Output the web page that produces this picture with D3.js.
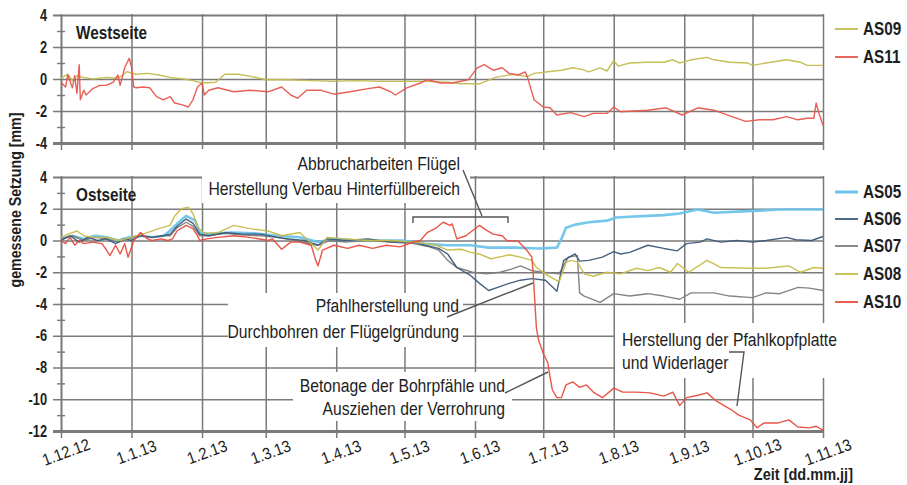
<!DOCTYPE html>
<html>
<head>
<meta charset="utf-8">
<script src="https://cdn.jsdelivr.net/npm/d3@7/dist/d3.min.js"></script>
<style>
  body { margin: 0; background: #fff; }
  svg { display: block; font-family: "Liberation Sans", Arial, sans-serif; }
</style>
</head>
<body>
<svg id="chart" width="907" height="485"></svg>
<script>
// Settlement measurements, days counted from 1.12.12, values in mm
const startLabel = "1.12.12";
const monthLabels = ["1.12.12","1.1.13","1.2.13","1.3.13","1.4.13","1.5.13","1.6.13","1.7.13","1.8.13","1.9.13","1.10.13","1.11.13"];
const topTicks = [-4, -2, 0, 2, 4];
const bottomTicks = [-12, -10, -8, -6, -4, -2, 0, 2, 4];

// Westseite
const AS09 = [[0,0.05],[3,0.3],[5,-0.1],[7,0.2],[10,0.1],[14,0.0],[20,0.1],[25,0.05],[29,0.45],[33,0.3],[38,0.35],[43,0.25],[48,0.1],[54,0.0],[58,-0.1],[62,-0.25],[68,-0.2],[72,0.3],[78,0.3],[84,0.15],[90,-0.05],[100,-0.05],[110,-0.1],[120,-0.15],[130,-0.1],[140,-0.15],[150,-0.15],[160,-0.15],[170,-0.2],[176,-0.3],[184,-0.3],[191,0.1],[199,0.3],[205,0.15],[208,0.35],[214,0.45],[220,0.55],[225,0.7],[229,0.6],[232,0.45],[237,0.7],[240,0.5],[243,1.15],[245,0.8],[250,1.0],[258,1.05],[265,1.05],[269,1.2],[272,1.0],[277,1.2],[284,1.35],[287,1.2],[294,1.05],[302,1.0],[304,0.85],[310,1.0],[319,1.2],[325,1.05],[328,0.85],[335,0.85]];
const AS11 = [[0,-0.2],[2,-0.5],[3,0.25],[5,-0.55],[6,0.2],[7,-0.9],[8,0.9],[8.5,-1.3],[10,-0.7],[11,-1.0],[14,-0.6],[17,-0.4],[20,-0.4],[23,-0.2],[25,0.25],[26,-0.4],[28,0.7],[30,1.3],[31,0.75],[32,-0.5],[33,-0.55],[36,-0.5],[39,-0.55],[42,-1.1],[45,-1.3],[48,-1.1],[50,-1.5],[53,-1.6],[56,-1.75],[58,-1.3],[60,-0.5],[62,-0.25],[63,-1.0],[65,-0.7],[69,-0.55],[76,-0.8],[83,-0.7],[91,-0.8],[97,-0.5],[101,-1.0],[104,-1.2],[108,-0.7],[114,-0.7],[120,-0.95],[127,-0.8],[135,-0.6],[140,-0.5],[145,-0.8],[147,-1.0],[152,-0.55],[158,-0.25],[161,-0.05],[167,-0.25],[172,-0.25],[179,-0.05],[183,0.7],[186,0.9],[190,0.55],[194,0.7],[197,0.35],[201,0.25],[204,0.45],[205,0.15],[208,-1.3],[212,-1.75],[215,-1.8],[218,-2.25],[224,-2.1],[230,-2.35],[234,-2.15],[240,-2.15],[243,-1.75],[246,-2.05],[258,-1.95],[266,-1.8],[273,-2.25],[280,-1.8],[287,-1.95],[291,-2.15],[295,-2.35],[301,-2.65],[307,-2.55],[313,-2.55],[319,-2.35],[324,-2.55],[328,-2.45],[331,-2.45],[332,-1.5],[333,-2.05],[335,-2.9]];

// Ostseite
const AS05 = [[0,0.1],[5,0.3],[10,0.1],[15,0.3],[20,0.2],[25,0.0],[30,0.2],[35,0.3],[40,0.2],[45,0.3],[47,0.5],[51,1.05],[55,1.55],[59,1.25],[61,0.5],[65,0.4],[75,0.5],[85,0.45],[95,0.3],[105,0.2],[113,-0.1],[120,0.1],[130,0.0],[140,0.0],[150,0.0],[160,-0.2],[170,-0.3],[180,-0.3],[188,-0.45],[200,-0.45],[210,-0.5],[218,-0.45],[220,0.1],[222,0.8],[226,1.0],[232,1.15],[240,1.25],[244,1.45],[250,1.5],[258,1.55],[265,1.6],[272,1.7],[280,1.95],[287,1.75],[302,1.85],[316,1.95],[335,1.95]];
const AS06 = [[0,0.0],[4,0.3],[8,-0.1],[12,0.2],[16,0.0],[20,0.1],[24,-0.2],[28,0.1],[31,0.0],[35,0.3],[40,0.2],[45,0.3],[48,0.4],[51,0.9],[55,1.35],[58,1.1],[61,0.4],[65,0.3],[72,0.5],[80,0.4],[88,0.4],[95,0.2],[100,0.1],[107,0.0],[113,-0.3],[117,0.1],[125,0.0],[135,0.1],[145,-0.1],[155,-0.1],[160,-0.3],[166,-0.5],[170,-0.85],[174,-1.7],[180,-2.2],[184,-2.7],[188,-3.15],[192,-2.95],[197,-2.7],[202,-2.5],[207,-2.4],[213,-2.5],[218,-3.2],[221,-1.25],[224,-1.0],[226,-0.85],[228,-1.3],[232,-1.25],[238,-1.05],[243,-0.7],[246,-0.85],[250,-0.75],[258,-0.3],[265,-0.5],[271,-0.65],[275,-0.2],[281,-0.1],[284,0.1],[290,-0.1],[297,0.0],[304,-0.1],[310,0.0],[319,0.2],[323,0.05],[330,0.0],[335,0.25]];
const AS07 = [[0,0.1],[5,0.3],[10,0.0],[15,0.2],[20,0.1],[25,-0.1],[30,0.1],[35,0.3],[40,0.2],[45,0.3],[48,0.3],[51,0.8],[55,1.15],[58,0.9],[61,0.3],[65,0.3],[72,0.45],[80,0.35],[88,0.3],[95,0.2],[103,0.0],[113,-0.3],[118,0.0],[125,-0.1],[135,0.0],[145,-0.1],[155,-0.2],[162,-0.4],[166,-0.6],[170,-1.25],[174,-1.7],[181,-2.0],[187,-2.1],[193,-2.0],[198,-1.8],[202,-1.6],[207,-1.9],[212,-2.0],[219,-2.1],[223,-1.05],[227,-0.95],[228,-3.3],[230,-3.5],[237,-3.9],[243,-3.35],[250,-3.5],[258,-3.35],[265,-3.5],[272,-3.7],[277,-3.3],[287,-3.3],[294,-3.5],[304,-3.6],[310,-3.3],[316,-3.35],[324,-2.95],[329,-3.0],[335,-3.15]];
const AS08 = [[0,0.2],[3,0.4],[5,0.5],[7,0.6],[10,0.3],[14,0.2],[20,0.2],[26,0.0],[31,0.2],[38,0.5],[43,0.75],[48,0.95],[50,1.55],[53,2.0],[56,2.1],[58,1.7],[60,0.85],[63,0.45],[69,0.5],[76,0.95],[83,0.75],[91,0.6],[97,0.3],[105,0.5],[113,-0.6],[117,0.2],[125,0.1],[135,0.0],[145,0.0],[155,-0.1],[160,-0.2],[165,-0.3],[170,-0.6],[176,-0.55],[180,-0.75],[184,-0.85],[189,-1.15],[194,-1.0],[197,-0.9],[202,-1.05],[207,-1.25],[209,-1.7],[214,-2.2],[219,-2.6],[222,-1.4],[224,-1.25],[227,-1.35],[230,-2.1],[234,-2.25],[240,-2.0],[246,-2.1],[253,-1.75],[258,-1.9],[263,-1.7],[268,-2.0],[271,-1.45],[276,-2.0],[284,-1.25],[290,-1.7],[302,-1.75],[310,-1.75],[320,-1.6],[325,-2.0],[331,-1.7],[335,-1.75]];
const AS10 = [[0,0.0],[2,-0.2],[4,0.2],[6,-0.3],[8,0.0],[10,-0.2],[14,-0.1],[18,-0.2],[20,-0.6],[21.5,-0.95],[24,-0.3],[26,-0.85],[28,-0.2],[29.5,-1.05],[32,0.0],[35,0.5],[38,0.1],[40,0.0],[44,0.1],[47,0.0],[49,0.1],[51,0.6],[55,0.95],[58,0.75],[60,0.3],[61,0.0],[64,0.1],[69,0.2],[76,0.3],[83,0.2],[91,0.0],[93,0.1],[97,-0.55],[101,-0.1],[105,-0.1],[110,-0.3],[112,-1.25],[113,-1.6],[115,-0.6],[120,-0.3],[126,-0.5],[131,-0.3],[137,-0.5],[143,-0.3],[149,-0.4],[155,-0.1],[158,0.0],[161,0.5],[165,0.8],[168,1.15],[171,0.95],[172,1.05],[174,0.1],[178,0.3],[183,0.85],[184,0.95],[187,0.65],[190,0.4],[194,0.3],[196,0.0],[201,-0.05],[205,-0.65],[207,-1.05],[207.5,-1.9],[209,-5.5],[210,-6.3],[212,-7.1],[214,-7.7],[215,-8.6],[216,-9.4],[218,-9.9],[220,-9.9],[222,-9.1],[225,-8.9],[228,-9.25],[231,-9.1],[234,-9.55],[238,-9.9],[243,-9.3],[247,-9.55],[253,-9.55],[259,-9.6],[265,-9.8],[269,-9.55],[272,-10.4],[275,-9.9],[280,-9.75],[284,-9.6],[288,-10.1],[294,-10.6],[298,-11.0],[303,-11.3],[306,-11.8],[309,-11.5],[315,-11.5],[320,-11.3],[324,-11.75],[329,-11.8],[332,-11.7],[335,-11.95]];

const topSeries = [
  { name: "AS09", data: AS09, color: "#c4bb4e", width: 1.4 },
  { name: "AS11", data: AS11, color: "#e6564c", width: 1.4 }
];
const bottomSeries = [
  { name: "AS05", data: AS05, color: "#6ec3ea", width: 2.6 },
  { name: "AS06", data: AS06, color: "#3d5878", width: 1.4 },
  { name: "AS07", data: AS07, color: "#7d7d7d", width: 1.4 },
  { name: "AS08", data: AS08, color: "#c6bc48", width: 1.4 },
  { name: "AS10", data: AS10, color: "#e84c3d", width: 1.4 }
];
const drawOrderBottom = ["AS05", "AS07", "AS06", "AS08", "AS10"];

const parseLabel = d3.timeParse("%d.%m.%y");
const start = parseLabel(startLabel);
const tickDates = monthLabels.map(parseLabel);
const toDate = d => new Date(start.getTime() + d * 864e5);

const svg = d3.select("#chart");
const left = 61, right = 823;
const x = d3.scaleTime().domain([tickDates[0], tickDates[tickDates.length - 1]]).range([left, right]);

const gridColor = "#7a7a7a";
const inkColor = "#1e1e1e";

// condensed text: regular glyphs squeezed along the text direction
function squeezed(sel, px, py, sx, rotate) {
  return sel.attr("transform", `translate(${px},${py})${rotate ? ` rotate(${rotate})` : ""} scale(${sx},1)`);
}

const panels = [
  { title: "Westseite", series: topSeries, order: ["AS09", "AS11"], ticks: topTicks,
    y: d3.scaleLinear().domain([-4, 4]).range([143, 15]), legendY: [29, 57] },
  { title: "Ostseite", series: bottomSeries, order: drawOrderBottom, ticks: bottomTicks,
    y: d3.scaleLinear().domain([-12, 4]).range([431, 177]), legendY: [192, 219, 246, 274, 302] }
];

// white boxes behind the annotation text (they interrupt the grid)
const annoBoxes = [
  { x: 202, y: 149, w: 268, h: 54 },
  { x: 228, y: 293, w: 235, h: 54 },
  { x: 293, y: 372, w: 219, h: 49 },
  { x: 615, y: 323, w: 235, h: 55 }
];

panels.forEach((p, i) => {
  const y = p.y;
  const [y0, y1] = y.range(); // bottom, top
  const g = svg.append("g");

  // horizontal grid lines
  g.append("g")
    .attr("transform", `translate(53,0)`)
    .call(d3.axisLeft(y).tickValues(p.ticks).tickSize(-(right - 53)).tickFormat(""))
    .call(a => a.select(".domain").remove())
    .call(a => a.selectAll("line")
      .attr("stroke", gridColor)
      .attr("stroke-width", d => (d === y.domain()[0] ? 2.8 : (d === y.domain()[1] ? 2 : 1.6))));

  // vertical grid lines (month starts), extending slightly below the axis
  g.append("g")
    .attr("transform", `translate(0,${y0 + 7})`)
    .call(d3.axisBottom(x).tickValues(tickDates).tickSize(-(y0 + 7 - y1 + 1)).tickFormat(""))
    .call(a => a.select(".domain").remove())
    .call(a => a.selectAll("line").attr("stroke", gridColor).attr("stroke-width", 1.5));

  // minor ticks at odd values
  const minor = d3.range(y.domain()[0] + 1, y.domain()[1], 2);
  g.append("g")
    .attr("transform", `translate(65,0)`)
    .call(d3.axisLeft(y).tickValues(minor).tickSize(8).tickFormat(""))
    .call(a => a.select(".domain").remove())
    .call(a => a.selectAll("line").attr("stroke", gridColor).attr("stroke-width", 1.4));

  // y axis line
  g.append("g")
    .attr("transform", `translate(${left},0)`)
    .call(d3.axisLeft(y).tickValues(p.ticks).tickSize(0).tickFormat(""))
    .call(a => a.select(".domain").attr("stroke", gridColor).attr("stroke-width", 1.7));

  // y tick labels
  g.append("g").selectAll("text").data(p.ticks).enter().append("text")
    .each(function (d) { squeezed(d3.select(this), 47, y(d), 0.8); })
    .attr("text-anchor", "end").attr("dominant-baseline", "central")
    .attr("font-size", 16).attr("font-weight", "bold").attr("fill", inkColor)
    .text(d => d);

  if (i === 1) {
    svg.selectAll(".annoBox").data(annoBoxes).enter().append("rect")
      .attr("class", "annoBox")
      .attr("x", d => d.x).attr("y", d => d.y).attr("width", d => d.w).attr("height", d => d.h)
      .attr("fill", "#fff");
  }

  // panel title
  squeezed(svg.append("text"), 76, y1 + 24, 0.85)
    .attr("font-size", 18).attr("font-weight", "bold").attr("fill", inkColor)
    .text(p.title);

  // data lines
  const line = d3.line().x(d => x(toDate(d[0]))).y(d => y(d[1]));
  const byName = new Map(p.series.map(s => [s.name, s]));
  p.order.forEach(n => {
    const s = byName.get(n);
    svg.append("path").datum(s.data)
      .attr("d", line)
      .attr("fill", "none")
      .attr("stroke", s.color)
      .attr("stroke-width", s.width)
      .attr("stroke-linejoin", "round")
      .attr("opacity", 0.95);
  });

  // legend
  p.series.forEach((s, k) => {
    const ly = p.legendY[k];
    svg.append("line").attr("x1", 835).attr("x2", 858).attr("y1", ly).attr("y2", ly)
      .attr("stroke", s.color).attr("stroke-width", s.width + 0.4);
    squeezed(svg.append("text"), 863, ly, 0.85)
      .attr("dominant-baseline", "central")
      .attr("font-size", 18).attr("font-weight", "bold").attr("fill", inkColor)
      .text(s.name);
  });
});

// x tick labels below the lower panel
svg.append("g").selectAll("text").data(tickDates).enter().append("text")
  .each(function (d) { squeezed(d3.select(this), x(d) + 5, 452, 0.9, -20); })
  .attr("text-anchor", "middle")
  .attr("dominant-baseline", "central")
  .attr("font-size", 16.5).attr("fill", inkColor)
  .text((d, i) => monthLabels[i]);

// axis titles
squeezed(svg.append("text"), 21, 200, 0.86, -90)
  .attr("text-anchor", "middle")
  .attr("font-size", 16.5).attr("font-weight", "bold").attr("fill", inkColor)
  .text("gemessene Setzung [mm]");
squeezed(svg.append("text"), 853, 480, 0.88)
  .attr("text-anchor", "end")
  .attr("font-size", 16.5).attr("font-weight", "bold").attr("fill", inkColor)
  .text("Zeit [dd.mm.jj]");

// annotations
const annoTexts = [
  { x: 460, y: 170, anchor: "end", text: "Abbrucharbeiten Flügel" },
  { x: 460, y: 195, anchor: "end", text: "Herstellung Verbau Hinterfüllbereich" },
  { x: 459, y: 312, anchor: "end", text: "Pfahlherstellung und" },
  { x: 459, y: 338, anchor: "end", text: "Durchbohren der Flügelgründung" },
  { x: 505, y: 392, anchor: "end", text: "Betonage der Bohrpfähle und" },
  { x: 505, y: 415, anchor: "end", text: "Ausziehen der Verrohrung" },
  { x: 622, y: 346, anchor: "start", text: "Herstellung der Pfahlkopfplatte" },
  { x: 622, y: 369, anchor: "start", text: "und Widerlager" }
];
svg.append("g").selectAll("text").data(annoTexts).enter().append("text")
  .each(function (d) { squeezed(d3.select(this), d.x, d.y, 0.85); })
  .attr("text-anchor", d => d.anchor)
  .attr("font-size", 18.5).attr("fill", inkColor)
  .text(d => d.text);

const leaders = [
  [[413, 223], [413, 217], [508, 217], [508, 223]],
  [[463, 170], [482, 216]],
  [[447, 317], [533, 283]],
  [[505, 393], [548, 372]],
  [[729, 352], [744, 352], [737, 406]]
];
svg.append("g").selectAll("path").data(leaders).enter().append("path")
  .attr("d", d3.line())
  .attr("fill", "none").attr("stroke", "#555").attr("stroke-width", 1.4);
</script>
</body>
</html>
